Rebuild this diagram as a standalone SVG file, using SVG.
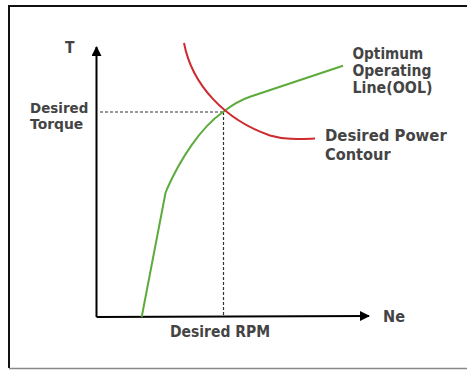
<svg xmlns="http://www.w3.org/2000/svg" width="467" height="370" viewBox="0 0 467 370">
<style>
.lbl{font-family:"DejaVu Sans","Liberation Sans",sans-serif;font-weight:bold;font-size:15px;fill:#444;}
.sm{font-size:14px;}
.axis{stroke:#000;stroke-width:2;fill:none;}
.dash{stroke:#333;stroke-width:1.2;stroke-dasharray:3 2;fill:none;}
.ool{stroke:#5CAB3C;stroke-width:2;fill:none;stroke-linejoin:round;}
.pwr{stroke:#CF2A2F;stroke-width:2;fill:none;}
</style>
<defs>
<marker id="arr" viewBox="0 0 10 10" refX="9" refY="5" markerWidth="10" markerHeight="10" markerUnits="userSpaceOnUse" orient="auto">
<path d="M0,0 L10,5 L0,10 Z" fill="#000"/>
</marker>
</defs>
<rect width="467" height="370" fill="#fff"/>
<g id="frame">
<path d="M9,368 L9,6 L467,6" fill="none" stroke="#111" stroke-width="2"/>
<path d="M9,368.5 L467,368.5" fill="none" stroke="#888" stroke-width="1.5"/>
</g>
<g id="connectors">
<path class="axis" d="M96.5,317 L96.5,47" marker-end="url(#arr)"/>
<path class="axis" d="M96.5,317 L369,316" marker-end="url(#arr)"/>
<path class="dash" d="M100,112 L223,112"/>
<path class="dash" d="M223.5,112 L223.5,316"/>
<path class="ool" d="M141.7,317 L165.5,193 L167,189 C180,160 200,128 223,112 C232,105 240,100 250,96.7 L343,65.7"/>
<path class="pwr" d="M184,43 C192,85 225,120 270,135.5 C285,140 300,139 315,138.5"/>
</g>
<g id="label-T"><text class="lbl" x="65" y="53.3" textLength="9.5" lengthAdjust="spacingAndGlyphs">T</text></g>
<g id="label-Ne"><text class="lbl" x="383" y="321.7" textLength="22" lengthAdjust="spacingAndGlyphs">Ne</text></g>
<g id="label-torque">
<text class="lbl sm" x="30" y="113" textLength="58.3" lengthAdjust="spacingAndGlyphs">Desired</text>
<text class="lbl sm" x="30" y="128.5" textLength="53.3" lengthAdjust="spacingAndGlyphs">Torque</text>
</g>
<g id="label-rpm"><text class="lbl" x="170" y="337.3" textLength="100" lengthAdjust="spacingAndGlyphs">Desired RPM</text></g>
<g id="label-ool">
<text class="lbl" x="352.5" y="59" textLength="70.7" lengthAdjust="spacingAndGlyphs">Optimum</text>
<text class="lbl" x="352.5" y="75.7" textLength="79" lengthAdjust="spacingAndGlyphs">Operating</text>
<text class="lbl" x="352.5" y="92.7" textLength="80" lengthAdjust="spacingAndGlyphs">Line(OOL)</text>
</g>
<g id="label-power">
<text class="lbl" x="325" y="141" textLength="121.7" lengthAdjust="spacingAndGlyphs">Desired Power</text>
<text class="lbl" x="325" y="160" textLength="65.7" lengthAdjust="spacingAndGlyphs">Contour</text>
</g>
</svg>
